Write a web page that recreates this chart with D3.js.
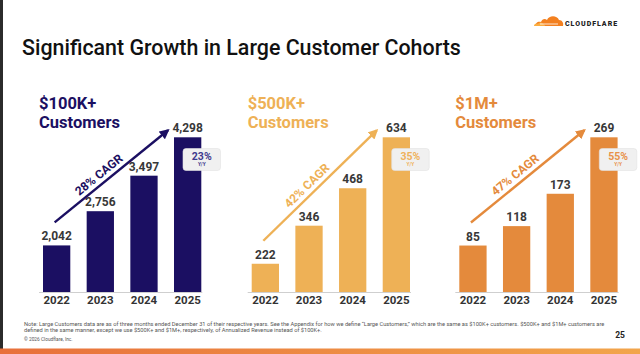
<!DOCTYPE html>
<html>
<head>
<meta charset="utf-8">
<script src="https://cdn.jsdelivr.net/npm/d3@7"></script>
<style>
  html, body { margin: 0; padding: 0; background: #fff; }
  svg { display: block; font-family: Roboto, "Liberation Sans", sans-serif; }
</style>
</head>
<body>
<div id="chart"></div>
<script>
const years = ["2022", "2023", "2024", "2025"];
const segments = ["$100K+", "$500K+", "$1M+"];
const cust100k = [2042, 2756, 3497, 4298];
const cust500k = [222, 346, 468, 634];
const cust1m = [85, 118, 173, 269];
const cagr = ["28% CAGR", "42% CAGR", "47% CAGR"];
const yoy = ["23%", "35%", "55%"];

const W = 640, H = 354;
const svg = d3.select("#chart").append("svg")
  .attr("width", W)
  .attr("height", H);

// page furniture
svg.append("rect").attr("x", 0).attr("y", 0).attr("width", 3).attr("height", H).attr("fill", "#2b2b2b");

const grad = svg.append("defs").append("linearGradient").attr("id", "footbar");
grad.append("stop").attr("offset", "0%").attr("stop-color", "#e8703b");
grad.append("stop").attr("offset", "100%").attr("stop-color", "#f2a54b");
svg.append("rect").attr("x", 0).attr("y", 348.5).attr("width", W).attr("height", H - 348.5).attr("fill", "url(#footbar)");

svg.append("text")
  .attr("x", 22).attr("y", 55)
  .style("font-size", "21.4px").style("font-weight", 500).attr("fill", "#111")
  .text("Significant Growth in Large Customer Cohorts");

// logo
const logo = svg.append("g").attr("transform", "translate(534,14)");
logo.append("path")
  .attr("d", "M2,12 C1,9 4,7 7,8 C8,5 11,4 13,6 C15,1 23,1 25,6 C28,6 30,9 29,12 Z")
  .attr("fill", "#f38020");
logo.append("path")
  .attr("d", "M0,12 C0,10 2,9 4,10 C5,8 8,8 9,10 C10,10 11,11 11,12 Z")
  .attr("fill", "#fbad41");
logo.append("line").attr("x1", 6).attr("y1", 10).attr("x2", 24).attr("y2", 10)
  .attr("stroke", "#fff").attr("stroke-width", 0.8);
svg.append("text")
  .attr("x", 565).attr("y", 25.5)
  .style("font-size", "7px").style("font-weight", 900).style("letter-spacing", "1px")
  .attr("fill", "#222")
  .text("CLOUDFLARE");

// panels
const panels = [
  {label: segments[0], values: cust100k, x0: 43, floor: 1070, color: "#1b0f62", badgeText: "#3f3b8e"},
  {label: segments[1], values: cust500k, x0: 251.7, floor: 130, color: "#eeb156", badgeText: "#efb25c"},
  {label: segments[2], values: cust1m, x0: 459.3, floor: 6, color: "#e48a3c", badgeText: "#e8924a"}
];
const baseY = 292, topY = 137.3, panelW = 158.3;
const fmt = d3.format(",");

svg.append("defs").selectAll("marker")
  .data(panels)
  .enter().append("marker")
  .attr("id", (d, i) => "head" + i)
  .attr("viewBox", "0 0 10 10")
  .attr("refX", 8).attr("refY", 5)
  .attr("markerWidth", 4.2).attr("markerHeight", 4.2)
  .attr("markerUnits", "strokeWidth")
  .attr("orient", "auto")
  .append("path").attr("d", "M0,0 L10,5 L0,10 Z").attr("fill", d => d.color);

panels.forEach((p, pi) => {
  const x = d3.scaleBand().domain(years).range([p.x0, p.x0 + panelW]).paddingInner(0.375).paddingOuter(0);
  const y = d3.scaleLinear().domain([p.floor, d3.max(p.values)]).range([baseY, topY]);
  const g = svg.append("g");
  const data = years.map((yr, i) => ({year: yr, value: p.values[i]}));

  g.append("text").attr("x", p.x0 - 4).attr("y", 109)
    .style("font-size", "16.5px").style("font-weight", 700).attr("fill", p.color)
    .text(p.label);
  g.append("text").attr("x", p.x0 - 4).attr("y", 127.5)
    .style("font-size", "16.5px").style("font-weight", 700).attr("fill", p.color)
    .text("Customers");

  g.selectAll(".bar").data(data).enter().append("rect")
    .attr("class", "bar")
    .attr("x", d => x(d.year))
    .attr("y", d => y(d.value))
    .attr("width", x.bandwidth())
    .attr("height", d => baseY - y(d.value))
    .attr("fill", p.color);

  g.append("line")
    .attr("x1", p.x0 - 4).attr("x2", p.x0 + panelW + 1)
    .attr("y1", baseY + 0.5).attr("y2", baseY + 0.5)
    .attr("stroke", "#cfcfcf").attr("stroke-width", 1);

  g.selectAll(".val").data(data).enter().append("text")
    .attr("x", d => x(d.year) + x.bandwidth() / 2)
    .attr("y", d => y(d.value) - 5)
    .attr("text-anchor", "middle")
    .style("font-size", "12px").style("font-weight", 700).attr("fill", "#383838")
    .text(d => fmt(d.value));

  g.selectAll(".yr").data(data).enter().append("text")
    .attr("x", d => x(d.year) + x.bandwidth() / 2)
    .attr("y", 304)
    .attr("text-anchor", "middle")
    .style("font-size", "11.5px").style("font-weight", 700).attr("fill", "#333")
    .text(d => d.year);

  // CAGR arrow
  const first = data[0], last = data[data.length - 1];
  const sx = x(first.year) + x.bandwidth() / 2 - 2, sy = y(first.value) - 23;
  const ex = x(last.year) - 6, ey = y(last.value) - 7;
  g.append("line")
    .attr("x1", sx).attr("y1", sy).attr("x2", ex).attr("y2", ey)
    .attr("stroke", p.color).attr("stroke-width", 2.4)
    .attr("marker-end", `url(#head${pi})`);
  const ang = Math.atan2(ey - sy, ex - sx) * 180 / Math.PI;
  const t = 0.44;
  g.append("text")
    .attr("transform", `translate(${sx + (ex - sx) * t},${sy + (ey - sy) * t}) rotate(${ang})`)
    .attr("y", -5)
    .attr("text-anchor", "middle")
    .style("font-size", "12px").style("font-weight", 700).attr("fill", p.color)
    .text(cagr[pi]);

  // Y/Y badge
  const bx = x(last.year) + 9, by = 148.5;
  g.append("rect")
    .attr("x", bx).attr("y", by).attr("width", 37.5).attr("height", 22).attr("rx", 3)
    .attr("fill", "#f0f0f0").attr("stroke", "#e2e2e2").attr("stroke-width", 0.6);
  g.append("text")
    .attr("x", bx + 18.75).attr("y", by + 11)
    .attr("text-anchor", "middle")
    .style("font-size", "10.5px").style("font-weight", 700).attr("fill", p.badgeText)
    .text(yoy[pi]);
  g.append("text")
    .attr("x", bx + 18.75).attr("y", by + 17.5)
    .attr("text-anchor", "middle")
    .style("font-size", "4.8px").style("font-weight", 700).attr("fill", p.badgeText)
    .text("Y/Y");
});

// footnote
const notes = [
  "Note: Large Customers data are as of three months ended December 31 of their respective years. See the Appendix for how we define \u201cLarge Customers,\u201d which are the same as $100K+ customers.  $500K+ and $1M+ customers are",
  "defined in the same manner, except we use $500K+ and $1M+, respectively, of Annualized Revenue instead of $100K+."
];
svg.selectAll(".note").data(notes).enter().append("text")
  .attr("x", 24).attr("y", (d, i) => 326 + i * 6)
  .style("font-size", "5.7px").attr("fill", "#555")
  .text(d => d);
svg.append("text").attr("x", 24).attr("y", 341)
  .style("font-size", "4.8px").attr("fill", "#555")
  .text("\u00a9 2026 Cloudflare, Inc.");
svg.append("text").attr("x", 625).attr("y", 337.5).attr("text-anchor", "end")
  .style("font-size", "8.5px").style("font-weight", 700).attr("fill", "#222")
  .text("25");
</script>
</body>
</html>
